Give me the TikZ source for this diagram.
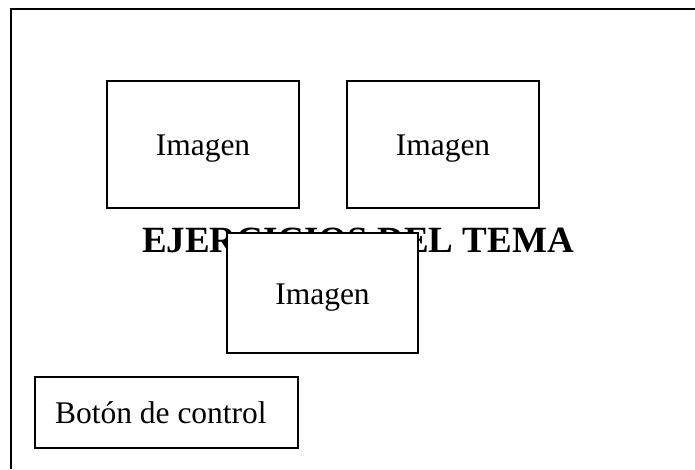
\documentclass[tikz,border=0pt]{standalone}
\usepackage{fontspec}
\setmainfont{Liberation Serif}
\usetikzlibrary{positioning}

\begin{document}
\begin{tikzpicture}[x=1pt,y=-1pt,
  frame/.style={line width=2.2pt},
  box/.style={draw,line width=2.2pt,fill=white,font=\fontsize{31.5}{36}\selectfont,text height=28pt,text depth=6pt,inner sep=0pt},
  imgbox/.style={box,minimum width=192pt,minimum height=127pt},
  title/.style={font=\fontsize{37}{42}\selectfont\bfseries,anchor=base,inner sep=0pt}]
\useasboundingbox (0,0) rectangle (695,469);
% outer frame (open at right and bottom)
\coordinate (fbl) at (11,469);
\coordinate (fcr) at (695,9);
\draw[frame] (fbl) |- (fcr);
\node[imgbox] (img1) at (203,144.5) {Imagen};
\node[imgbox] (img2) at (443,144.5) {Imagen};
\node[title] (tit) at (358,252) {EJERCICIOS DEL TEMA};
\node[imgbox,minimum width=191pt,minimum height=120pt] (img3) at (322.5,293) {Imagen};
\node[box,minimum height=71pt,text width=223pt,inner xsep=20pt,align=flush left] (btn) at (166.5,412.5) {Botón de control};
\end{tikzpicture}
\end{document}
